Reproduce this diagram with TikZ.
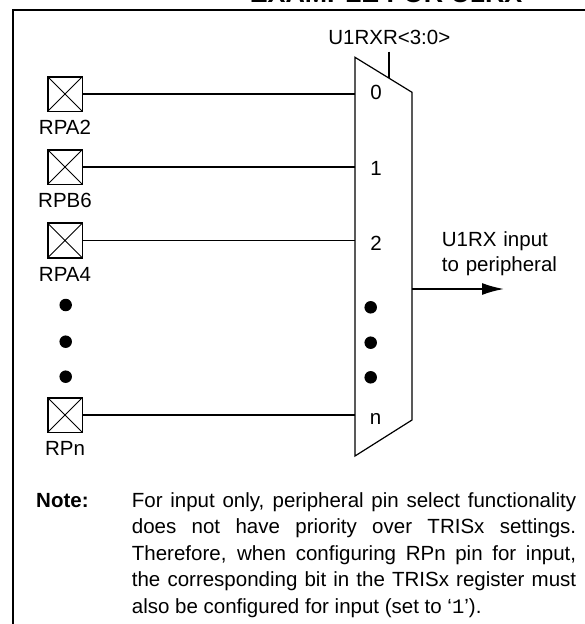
\documentclass[tikz,border=0pt]{standalone}
\usepackage{fontspec}
\setmainfont{Liberation Sans}
\setmonofont{Liberation Mono}
\usetikzlibrary{arrows.meta}
\begin{document}
\begin{tikzpicture}[x=1pt,y=-1pt,
  wire/.style={line width=1.8pt},
  muxline/.style={line width=1.2pt, line join=miter},
  pinbox/.style={draw, line width=1.8pt, minimum size=34.8pt, inner sep=0pt, outer sep=0pt},
  xline/.style={line width=0.9pt},
  lbl/.style={font=\fontsize{20.5}{25}\selectfont, inner sep=0pt, anchor=base},
  dotc/.style={fill=black, circle, inner sep=0pt, minimum size=12.5pt},
  ]
\useasboundingbox (0,0) rectangle (585,624);
% frame
\draw[line width=2.4pt] (12.7,630) -- (12.7,10) -- (590,10);
\node[font=\bfseries\fontsize{26.8}{30}\selectfont, inner sep=0pt, anchor=base] (title) at (386,2.5) {EXAMPLE FOR U1RX};
% mux
\coordinate (mtl) at (355,57.3);
\coordinate (mtr) at (412,92.3);
\coordinate (mbr) at (412,420);
\coordinate (mbl) at (355,456);
\draw[muxline] (mtl) -- (mtr) -- (mbr) -- (mbl) -- cycle;
\coordinate (seltop) at (389.3,51.7);
\coordinate (selbot) at (389.3,78.4);
\draw[wire] (seltop) -- (selbot);
\node[lbl] (sel) at (389.3,44) {U1RXR<3:0>};
% pins
\foreach \n/\y/\t in {p0/94/RPA2, p1/167/RPB6, p2/240.5/RPA4, pn/415/RPn}{
  \node[pinbox] (\n) at (65,\y) {};
  \draw[xline] (\n.north west) -- (\n.south east) (\n.north east) -- (\n.south west);
  \node[lbl] (\n lab) at (65,\y+40.5) {\t};
  \coordinate (\n in) at (355,\y);
  \draw[wire] (\n.east) -- (\n in);
}
% mux input numbers
\node[lbl] (n0) at (376,99.3) {0};
\node[lbl] (n1) at (376,175) {1};
\node[lbl] (n2) at (376,250) {2};
\node[lbl] (nn) at (375.5,424) {n};
% dots
\foreach \y [count=\i] in {305,341.7,376.7}{
  \node[dotc] (ld\i) at (65.7,\y) {};
}
\foreach \y [count=\i] in {307.3,342.7,377.3}{
  \node[dotc] (md\i) at (370.7,\y) {};
}
% output
\coordinate (mout) at (412,289);
\coordinate (otip) at (504,289);
\draw[wire, -{Latex[length=22pt,width=12pt]}] (mout) -- (otip);
\node[lbl, anchor=base west, text width=140pt, align=left,
      font=\fontsize{20.5}{25}\selectfont] (outlab) at (441.7,246.7) {U1RX input\\to peripheral};
% note
\node[lbl, anchor=base west, font=\bfseries\fontsize{20.5}{26.5}\selectfont] (notehd) at (36,507.3) {Note:};
\node[lbl, anchor=base west, text width=444.3pt, align=justify,
      font=\fontsize{20.5}{26.5}\selectfont] (note) at (131.7,507.3)
  {For input only, peripheral pin select functionality\linebreak
   does not have priority over TRISx settings.\linebreak
   Therefore, when configuring RPn pin for input,\linebreak
   the corresponding bit in the TRISx register must\linebreak
   also be configured for input (set to ‘{\ttfamily 1}’).};
\end{tikzpicture}
\end{document}
